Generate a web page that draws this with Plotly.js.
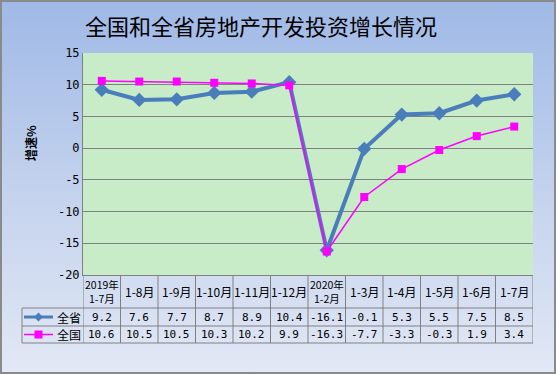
<!DOCTYPE html>
<html><head><meta charset="utf-8">
<script src="https://cdn.plot.ly/plotly-3.0.1.min.js"></script>
<style>
html,body{margin:0;padding:0;}
#wrap{width:556px;height:374px;background:linear-gradient(to bottom,#9fb9e6 0%,#c6d4ee 55%,#e2e8f5 100%);box-shadow:inset 0 0 0 2px #8a8a8a;}
#chart{width:556px;height:374px;}
</style></head>
<body><div id="wrap"><div id="chart"></div></div>
<script>
var categories = ["2019年<br>1-7月","1-8月","1-9月","1-10月","1-11月","1-12月","2020年<br>1-2月","1-3月","1-4月","1-5月","1-6月","1-7月"];
var seriesNames = ["全省","全国"];
var province = [9.2,7.6,7.7,8.7,8.9,10.4,-16.1,-0.1,5.3,5.5,7.5,8.5];
var nation = [10.6,10.5,10.5,10.3,10.2,9.9,-16.3,-7.7,-3.3,-0.3,1.9,3.4];
var yTicks = [15,10,5,0,-5,-10,-15,-20];

var blue = "#4a7ebb", mag = "#ff00ff", gridC = "#808080";
var xIdx = categories.map(function(_,i){return i;});
var traces = [
  {x:xIdx, y:province, name:seriesNames[0], type:"scatter", mode:"lines+markers",
   line:{color:blue,width:4}, marker:{symbol:"diamond",size:11,color:blue}},
  {x:xIdx, y:nation, name:seriesNames[1], type:"scatter", mode:"lines+markers",
   line:{color:mag,width:1.5}, marker:{symbol:"square",size:8,color:mag}}
];

function py(px){return (275-px)/222;}
function pxx(px){return (px-83)/450;}
var yHdrBot = py(308), yR1Bot = py(326), yR2Bot = py(343);
var shapes = [], annotations = [];
var lc = {color:gridC,width:1};
[yHdrBot,yR1Bot,yR2Bot].forEach(function(y){
  shapes.push({type:"line",xref:"paper",yref:"paper",x0:pxx(22),x1:1,y0:y,y1:y,line:lc});
});
for(var i=0;i<=categories.length;i++){
  shapes.push({type:"line",xref:"x",yref:"paper",x0:i-0.5,x1:i-0.5,y0:0,y1:yR2Bot,line:lc});
}
shapes.push({type:"line",xref:"paper",yref:"paper",x0:pxx(22),x1:pxx(22),y0:yHdrBot,y1:yR2Bot,line:lc});
var r1c = py(317), r2c = py(334.5);
shapes.push({type:"line",xref:"paper",yref:"paper",x0:pxx(24),x1:pxx(53),y0:r1c,y1:r1c,line:{color:blue,width:3}});
shapes.push({type:"line",xref:"paper",yref:"paper",x0:pxx(24),x1:pxx(53),y0:r2c,y1:r2c,line:{color:mag,width:1.5}});
var cx = pxx(38.5), dx = 4.5/450, dy = 4.5/222;
shapes.push({type:"path",xref:"paper",yref:"paper",
  path:"M "+(cx-dx)+" "+r1c+" L "+cx+" "+(r1c+dy)+" L "+(cx+dx)+" "+r1c+" L "+cx+" "+(r1c-dy)+" Z",
  fillcolor:blue,line:{color:blue,width:0}});
var sx = 4/450, sy = 4/222;
shapes.push({type:"rect",xref:"paper",yref:"paper",x0:cx-sx,x1:cx+sx,y0:r2c-sy,y1:r2c+sy,fillcolor:mag,line:{color:mag,width:0}});

var cjk = "Noto Sans CJK SC, sans-serif";
var mono = "DejaVu Sans Mono, monospace";
function ann(o){o.showarrow=false;o.xanchor="center";o.yanchor="middle";o.borderpad=0;annotations.push(o);}
ann({xref:"paper",yref:"paper",x:pxx(68.5),y:r1c,text:seriesNames[0],font:{family:cjk,size:12,color:"#000"}});
ann({xref:"paper",yref:"paper",x:pxx(68.5),y:r2c,text:seriesNames[1],font:{family:cjk,size:12,color:"#000"}});
var hdrC = py(291.5);
categories.forEach(function(c,i){
  var two = c.indexOf("<br>")>=0;
  ann({xref:"x",yref:"paper",x:i,y:hdrC,text:c,font:{family:cjk,size:two?10.5:12,color:"#000"},align:"center"});
  ann({xref:"x",yref:"paper",x:i,y:r1c,text:province[i].toFixed(1),font:{family:mono,size:11,color:"#000"}});
  ann({xref:"x",yref:"paper",x:i,y:r2c,text:nation[i].toFixed(1),font:{family:mono,size:11,color:"#000"}});
});
ann({xref:"paper",yref:"paper",x:pxx(30),y:py(143),text:"<b>增速%</b>",textangle:-90,font:{family:cjk,size:12,color:"#000"}});
ann({xref:"paper",yref:"paper",x:pxx(261),y:py(25),text:"全国和全省房地产开发投资增长情况",font:{family:cjk,size:22,color:"#000"}});

var layout = {
  width:556, height:374,
  margin:{l:83,r:23,t:53,b:99,pad:0},
  paper_bgcolor:"rgba(0,0,0,0)", plot_bgcolor:"#c8ebc8",
  showlegend:false,
  xaxis:{type:"linear",range:[-0.5,11.5],showticklabels:false,showgrid:false,zeroline:false,
    showline:true,linecolor:gridC,linewidth:1,ticks:"",fixedrange:true},
  yaxis:{range:[-20,15],tickvals:yTicks,ticktext:yTicks.map(String),showgrid:true,gridcolor:gridC,gridwidth:1,
    zeroline:false,showline:true,linecolor:gridC,linewidth:1,ticks:"",ticklen:0,
    tickfont:{family:mono,size:12,color:"#000"},fixedrange:true},
  shapes:shapes, annotations:annotations
};
Plotly.newPlot("chart",traces,layout,{staticPlot:true,displayModeBar:false});
</script></body></html>
